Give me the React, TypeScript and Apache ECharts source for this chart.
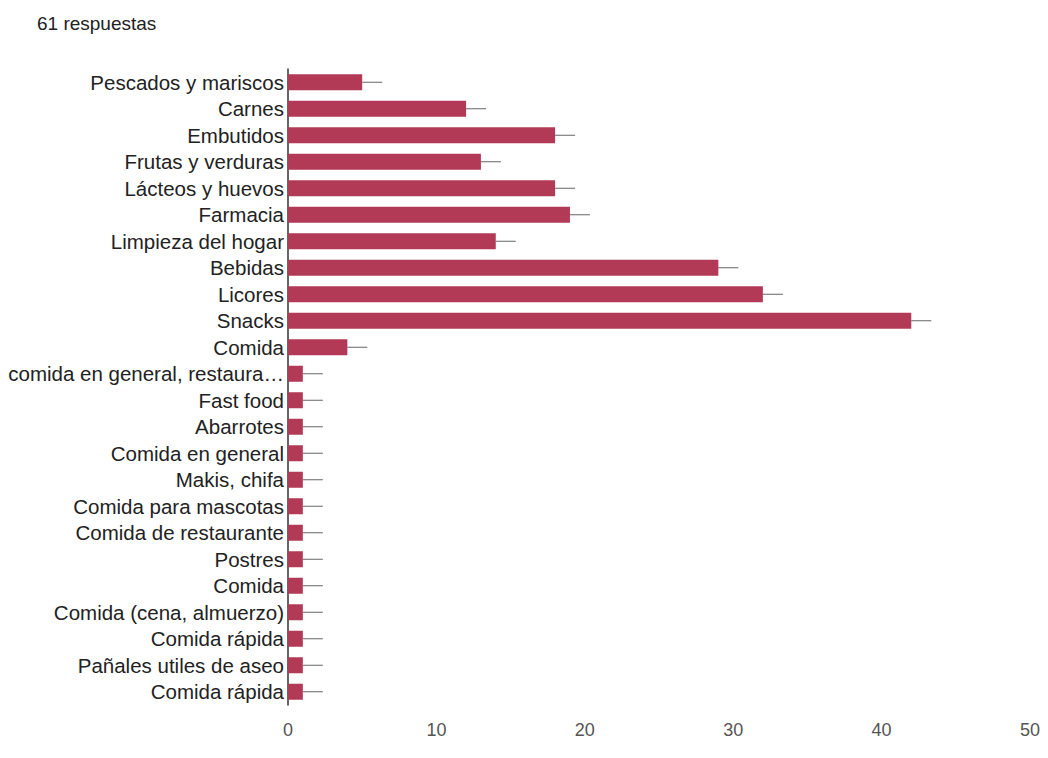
import React, { useEffect, useRef } from "react";
import * as echarts from "echarts";

const categories = [
  "Pescados y mariscos",
  "Carnes",
  "Embutidos",
  "Frutas y verduras",
  "Lácteos y huevos",
  "Farmacia",
  "Limpieza del hogar",
  "Bebidas",
  "Licores",
  "Snacks",
  "Comida",
  "comida en general, restaura…",
  "Fast food",
  "Abarrotes",
  "Comida en general",
  "Makis, chifa",
  "Comida para mascotas",
  "Comida de restaurante",
  "Postres",
  "Comida",
  "Comida (cena, almuerzo)",
  "Comida rápida",
  "Pañales utiles de aseo",
  "Comida rápida",
];

const values = [5, 12, 18, 13, 18, 19, 14, 29, 32, 42, 4, 1, 1, 1, 1, 1, 1, 1, 1, 1, 1, 1, 1, 1];

const xTicks = [0, 10, 20, 30, 40, 50];

export default function App() {
  const ref = useRef<HTMLDivElement>(null);
  useEffect(() => {
    if (!ref.current) return;
    const chart = echarts.init(ref.current, undefined, { renderer: "svg" });
    const idx = categories.map((_, i) => i);
    chart.setOption({
      animation: false,
      backgroundColor: "#ffffff",
      title: {
        text: "61 respuestas",
        left: 32,
        top: 9,
        textStyle: { fontFamily: "Liberation Sans", fontSize: 19, fontWeight: "normal", color: "#222" },
      },
      grid: { left: 288, right: 18, top: 69, bottom: 53, containLabel: false },
      xAxis: {
        type: "value",
        min: xTicks[0],
        max: xTicks[xTicks.length - 1],
        interval: 10,
        axisLine: { show: false },
        axisTick: { show: false },
        splitLine: { show: false },
        axisLabel: { fontFamily: "Liberation Sans", fontSize: 18, color: "#555", margin: 16 },
      },
      yAxis: {
        type: "category",
        inverse: true,
        data: idx,
        axisLine: { show: true, lineStyle: { color: "#333", width: 1.5 } },
        axisTick: { show: false },
        axisLabel: {
          interval: 0,
          fontFamily: "Liberation Sans",
          fontSize: 20.5,
          color: "#222",
          margin: 4,
          formatter: (v: string) => categories[Number(v)],
        },
      },
      series: [
        {
          type: "bar",
          data: values,
          barWidth: 16,
          itemStyle: { color: "#b23a56" },
          z: 2,
        },
        {
          type: "custom",
          data: values.map((v, i) => [v, i]),
          encode: { x: 0, y: 1 },
          z: 3,
          renderItem: (params: any, api: any) => {
            const p = api.coord([api.value(0), api.value(1)]);
            return {
              type: "line",
              shape: { x1: p[0], y1: p[1], x2: p[0] + 20, y2: p[1] },
              style: { stroke: "#666", lineWidth: 1 },
            };
          },
        },
      ],
    });
    return () => chart.dispose();
  }, []);
  return <div ref={ref} style={{ width: 1048, height: 758, position: "absolute", left: 0, top: 0 }} />;
}
